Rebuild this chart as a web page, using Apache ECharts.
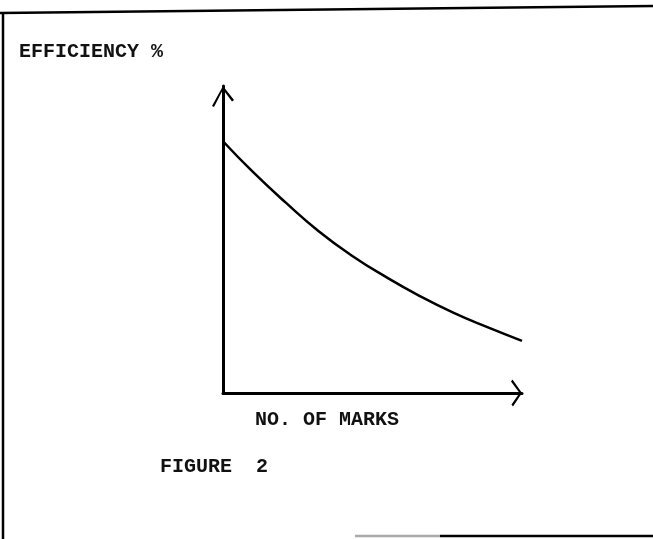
<!doctype html>
<html lang="en">
  <head>
    <meta charset="utf-8">
    <title>Figure 2</title>
    <script src="https://cdn.jsdelivr.net/npm/echarts@6.0.0/dist/echarts.min.js"></script>
    <style>
      html, body {
        width: 100%;
        height: 100%;
        margin: 0;
        background: #fff;
      }

      #chart {
        width: 653px;
        height: 539px;
      }
    </style>
  </head>
  <body>
    <div id="chart"></div>
    <script>
      // values (no units on the original axes)
      const marks = [0, 1, 2.1, 3.2, 4.3, 5.5, 6.6, 7.7, 8.8, 10];
      const efficiency = [82, 72, 62, 52.7, 44.8, 37.5, 31.5, 26.2, 21.6, 17];

      const xTitle = 'NO. OF MARKS';
      const yTitle = 'EFFICIENCY %';
      const caption = 'FIGURE  2';

      const font = '"Liberation Mono", "DejaVu Sans Mono", monospace';

      // hand drawn open arrow heads
      const upArrow = 'path://M11,0 L22,14 L20,15.5 L11,3.5 L2,21 L0,20 Z';
      const rightArrow = 'path://M13.5,0 L27,9 L25,10.5 L13.5,2.5 L2,11 L0,9.5 Z';

      let chart = echarts.init(document.getElementById('chart'), null, {renderer: 'canvas'});

      let option = {
        animation: false,
        backgroundColor: '#fff',
        title: {
          text: caption,
          left: 160,
          top: 457,
          padding: 0,
          textStyle: {
            fontFamily: font,
            fontSize: 20,
            fontWeight: 'bold',
            color: '#111'
          }
        },
        grid: {
          left: 223,
          right: 131,
          top: 86,
          bottom: 146
        },
        xAxis: {
          type: 'value',
          min: 0,
          max: 10,
          name: xTitle,
          nameLocation: 'start',
          nameGap: -32,
          nameTextStyle: {
            fontFamily: font,
            fontSize: 20,
            fontWeight: 'bold',
            color: '#111',
            align: 'left',
            verticalAlign: 'top',
            padding: [17, 0, 0, 0]
          },
          axisLine: {
            onZero: false,
            symbol: ['none', rightArrow],
            symbolSize: [27, 11],
            symbolOffset: [0, -5.5],
            lineStyle: {color: '#000', width: 3}
          },
          axisTick: {show: false},
          axisLabel: {show: false},
          splitLine: {show: false}
        },
        yAxis: {
          type: 'value',
          min: 0,
          max: 100,
          name: yTitle,
          nameLocation: 'end',
          nameGap: 34,
          nameTextStyle: {
            fontFamily: font,
            fontSize: 20,
            fontWeight: 'bold',
            color: '#111',
            align: 'right',
            verticalAlign: 'middle',
            padding: [0, 60, 0, 0]
          },
          axisLine: {
            show: true,
            onZero: false,
            symbol: ['none', upArrow],
            symbolSize: [22, 21],
            symbolOffset: [0, -10.5],
            lineStyle: {color: '#000', width: 3}
          },
          axisTick: {show: false},
          axisLabel: {show: false},
          splitLine: {show: false}
        },
        series: [
          {
            type: 'line',
            smooth: true,
            showSymbol: false,
            lineStyle: {color: '#000', width: 2.5},
            data: marks.map((m, i) => [m, efficiency[i]])
          }
        ],
        // frame of the scanned page
        graphic: [
          {type: 'line', shape: {x1: 0, y1: 13, x2: 653, y2: 6}, style: {stroke: '#000', lineWidth: 2.5}},
          {type: 'line', shape: {x1: 3, y1: 12, x2: 3, y2: 539}, style: {stroke: '#000', lineWidth: 2.5}},
          {type: 'line', shape: {x1: 355, y1: 536, x2: 440, y2: 536}, style: {stroke: '#aaa', lineWidth: 2.5}},
          {type: 'line', shape: {x1: 440, y1: 536, x2: 653, y2: 536}, style: {stroke: '#000', lineWidth: 2.5}}
        ]
      };

      chart.setOption(option);

      window.addEventListener('resize', () => {
        chart.resize();
      });
    </script>
  </body>
</html>
